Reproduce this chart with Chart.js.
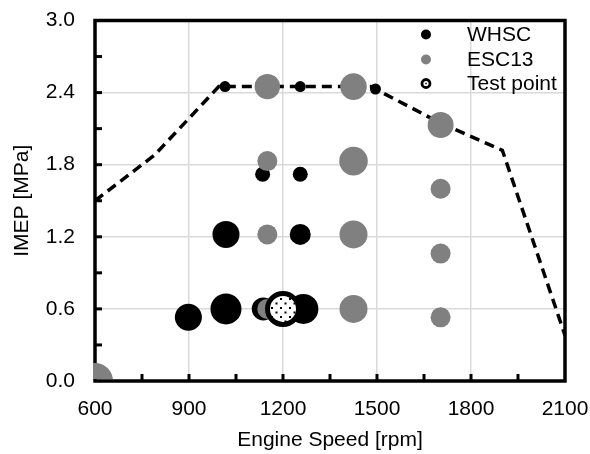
<!DOCTYPE html>
<html><head><meta charset="utf-8">
<script src="https://cdn.jsdelivr.net/npm/chart.js@4/dist/chart.umd.min.js"></script>
<style>html,body{margin:0;padding:0;background:#fff;overflow:hidden}</style>
</head><body>
<canvas id="c" width="590" height="454"></canvas>
<script>
// ---- data ----
const xTicks = [600, 900, 1200, 1500, 1800, 2100];
const yTicks = [0.0, 0.6, 1.2, 1.8, 2.4, 3.0];

const whscSpeed  = [1015, 1255, 1495, 1135, 1255, 1018, 1255, 898, 1018, 1137, 1265];
const whscImep   = [2.45, 2.45, 2.43, 1.72, 1.72, 1.22, 1.22, 0.53, 0.60, 0.60, 0.60];
const whscWeight = [5.5, 5.5, 5.5, 7.5, 7.5, 13.5, 10.5, 13.5, 15.5, 11.5, 15];

const escSpeed  = [600, 1150, 1150, 1150, 1150, 1425, 1425, 1425, 1425, 1703, 1703, 1703, 1703];
const escImep   = [0.0, 2.45, 1.83, 1.22, 0.60, 2.45, 1.83, 1.22, 0.60, 2.13, 1.60, 1.06, 0.53];
const escWeight = [18, 12.7, 10, 10, 10, 13.3, 14.3, 14, 14, 13, 10, 10, 10];

const testSpeed = [1200];
const testImep  = [0.60];

const limitSpeed = [600, 790, 995, 1480, 1700, 1900, 2100];
const limitImep  = [1.50, 1.88, 2.45, 2.45, 2.15, 1.92, 0.38];

const legendLabels = ['WHSC', 'ESC13', 'Test point'];

// ---- helpers ----
const FONT = "'Liberation Sans', Arial, sans-serif";
const zip = (xs, ys) => xs.map((x, i) => ({x: x, y: ys[i]}));

function makeDots() {
  const c = document.createElement('canvas');
  c.width = 9; c.height = 9;
  const g = c.getContext('2d');
  g.fillStyle = '#fff'; g.fillRect(0, 0, 9, 9);
  g.fillStyle = '#000';
  g.fillRect(1, 1, 2, 2);
  g.fillRect(5.5, 5.5, 2, 2);
  return g.createPattern(c, 'repeat');
}
const dotPattern = makeDots();

const framePlugin = {
  id: 'frame',
  beforeDatasetsDraw(chart) {
    const {ctx, chartArea: a, scales: {x, y}} = chart;
    ctx.save();
    ctx.strokeStyle = '#000';
    ctx.lineWidth = 3;
    const xs = [], ys = [];
    for (let i = 0; i < xTicks.length - 1; i++) { xs.push(xTicks[i] + (xTicks[i+1]-xTicks[i])/2); if (i>0) xs.push(xTicks[i]); }
    for (let i = 0; i < yTicks.length - 1; i++) { ys.push(yTicks[i] + (yTicks[i+1]-yTicks[i])/2); if (i>0) ys.push(yTicks[i]); }
    xs.forEach(v => { const px = x.getPixelForValue(v); ctx.beginPath(); ctx.moveTo(px, a.bottom); ctx.lineTo(px, a.bottom - 7); ctx.stroke(); });
    ys.forEach(v => { const py = y.getPixelForValue(v); ctx.beginPath(); ctx.moveTo(a.left, py); ctx.lineTo(a.left + 7, py); ctx.stroke(); });
    ctx.lineWidth = 3.5;
    ctx.strokeRect(a.left, a.top, a.right - a.left, a.bottom - a.top);
    ctx.restore();
  },
  afterDraw(chart) {
    const {ctx, chartArea: a} = chart;
    ctx.save();
    const mx = a.right - 139, tx = a.right - 98;
    const rows = [a.top + 14, a.top + 39, a.top + 63];
    ctx.font = '21px ' + FONT;
    ctx.textBaseline = 'middle';
    ctx.beginPath(); ctx.arc(mx, rows[0], 5, 0, Math.PI*2); ctx.fillStyle = '#000'; ctx.fill();
    ctx.beginPath(); ctx.arc(mx, rows[1], 5, 0, Math.PI*2); ctx.fillStyle = '#808080'; ctx.fill();
    ctx.beginPath(); ctx.arc(mx, rows[2], 4, 0, Math.PI*2); ctx.fillStyle = '#fff'; ctx.fill();
    ctx.lineWidth = 2.8; ctx.strokeStyle = '#000'; ctx.stroke();
    ctx.fillStyle = '#000'; ctx.fillRect(mx - 0.75, rows[2] - 0.75, 1.5, 1.5);
    legendLabels.forEach((t, i) => { ctx.fillStyle = '#000'; ctx.fillText(t, tx, rows[i] + 1); });
    ctx.restore();
  }
};

new Chart(document.getElementById('c'), {
  type: 'scatter',
  data: {
    datasets: [
      {
        label: legendLabels[2],
        data: zip(testSpeed, testImep),
        backgroundColor: dotPattern,
        borderColor: '#000',
        borderWidth: 5,
        pointRadius: 15.5,
        order: 0
      },
      {
        label: legendLabels[1],
        data: zip(escSpeed, escImep),
        backgroundColor: '#808080',
        borderWidth: 0,
        pointRadius: c => escWeight[c.dataIndex],
        clip: {left: 2, top: 0, right: 0, bottom: -2},
        order: 1
      },
      {
        label: legendLabels[0],
        data: zip(whscSpeed, whscImep),
        backgroundColor: '#000',
        borderWidth: 0,
        pointRadius: c => whscWeight[c.dataIndex],
        order: 2
      },
      {
        label: 'limit',
        data: zip(limitSpeed, limitImep),
        showLine: true,
        borderColor: '#000',
        borderWidth: 3.5,
        borderDash: [10, 6],
        pointRadius: 0,
        fill: false,
        tension: 0,
        order: 3
      }
    ]
  },
  options: {
    responsive: false,
    animation: false,
    devicePixelRatio: 1,
    layout: {padding: {top: 18, right: 25, bottom: 0, left: 0}},
    plugins: {legend: {display: false}, tooltip: {enabled: false}},
    elements: {point: {hoverRadius: 0}},
    scales: {
      x: {
        type: 'linear',
        min: xTicks[0], max: xTicks[xTicks.length-1],
        afterBuildTicks: s => { s.ticks = xTicks.map(v => ({value: v})); },
        afterFit: s => { s.height = 73; s.paddingLeft = 0; s.paddingRight = 0; },
        grid: {color: '#d9d9d9', lineWidth: 1.5, drawTicks: false},
        border: {display: false},
        ticks: {color: '#000', font: {family: FONT, size: 21}, padding: 16, maxRotation: 0, callback: v => String(v)},
        title: {display: true, text: 'Engine Speed [rpm]', color: '#000', font: {family: FONT, size: 21}, padding: {top: 0, bottom: 1}}
      },
      y: {
        type: 'linear',
        min: yTicks[0], max: yTicks[yTicks.length-1],
        afterBuildTicks: s => { s.ticks = yTicks.map(v => ({value: v})); },
        afterFit: s => { s.width = 95; s.paddingTop = 0; s.paddingBottom = 0; },
        grid: {color: '#d9d9d9', lineWidth: 1.5, drawTicks: false},
        border: {display: false},
        ticks: {color: '#000', font: {family: FONT, size: 21}, padding: 20, callback: v => Number(v).toFixed(1)},
        title: {display: true, text: 'IMEP [MPa]', color: '#000', font: {family: FONT, size: 21}, padding: {top: 10, bottom: 0}}
      }
    }
  },
  plugins: [framePlugin]
});
</script>
</body></html>
